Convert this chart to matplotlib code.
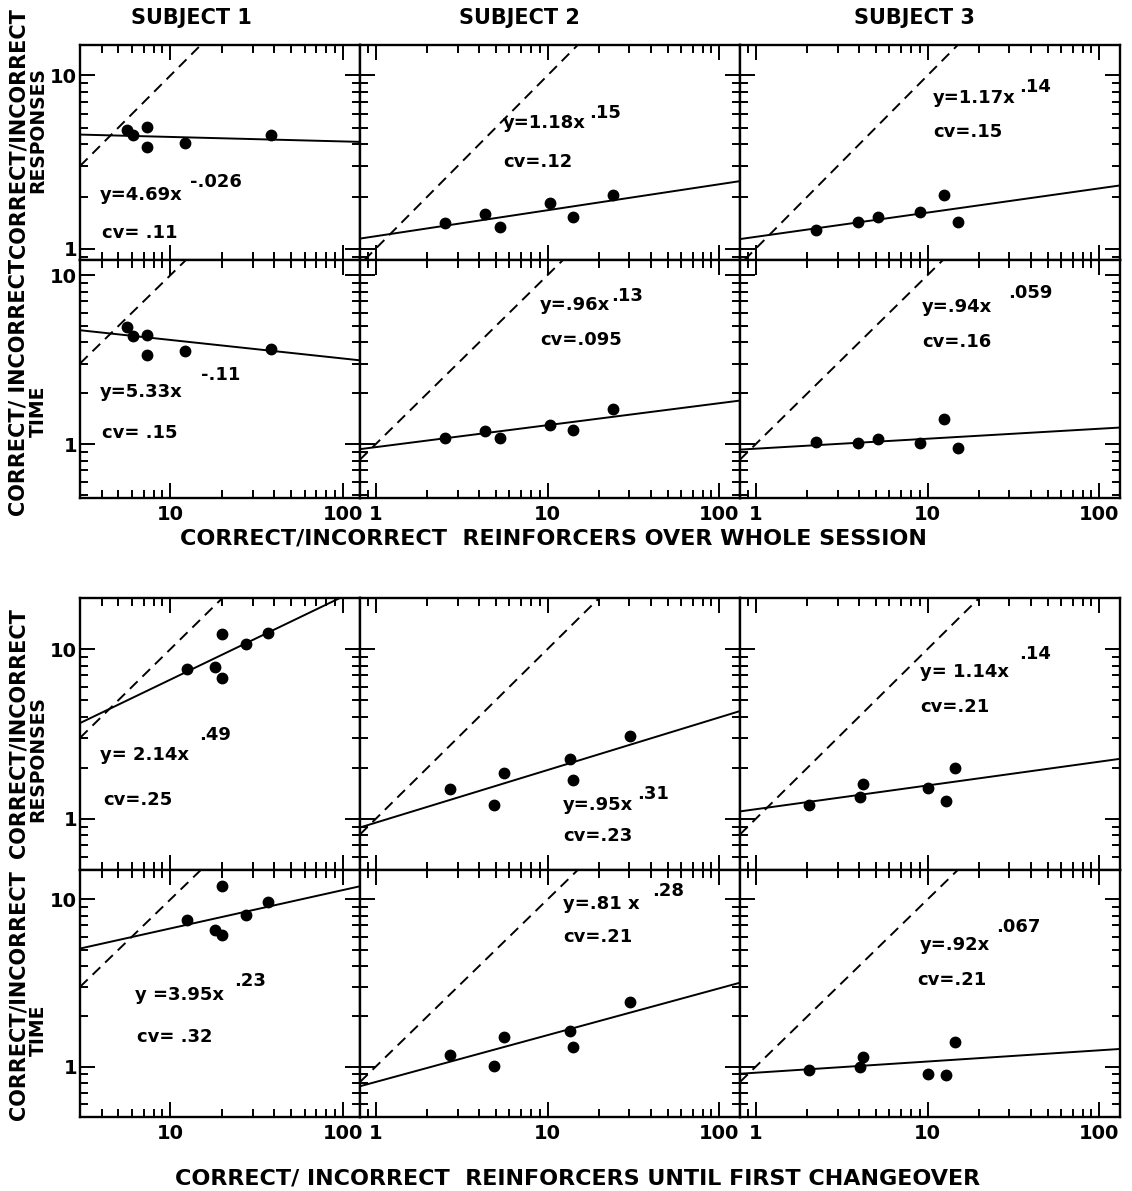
import matplotlib.pyplot as plt
from matplotlib.ticker import LogLocator, FuncFormatter, NullFormatter
import numpy as np

# correct/incorrect reinforcers over whole session (x) and the two ratios (y)
whole_x_s1 = [5.6, 6.1, 7.35, 7.35, 12.1, 38.0]
whole_resp_s1 = [4.83, 4.53, 5.07, 3.87, 4.09, 4.55]
whole_time_s1 = [4.95, 4.36, 4.42, 3.37, 3.56, 3.65]

whole_x_s2 = [2.53, 4.34, 5.3, 10.4, 14.1, 24.0]
whole_resp_s2 = [1.41, 1.58, 1.34, 1.83, 1.53, 2.03]
whole_time_s2 = [1.08, 1.20, 1.09, 1.30, 1.21, 1.61]

whole_x_s3 = [2.24, 3.95, 5.13, 9.1, 12.5, 15.0]
whole_resp_s3 = [1.29, 1.42, 1.52, 1.62, 2.05, 1.43]
whole_time_s3 = [1.03, 1.02, 1.07, 1.02, 1.41, 0.95]

# reinforcers until first changeover
first_x_s1 = [12.4, 18.0, 19.8, 19.8, 27.5, 36.5]
first_resp_s1 = [7.6, 7.8, 6.8, 12.3, 10.7, 12.4]
first_time_s1 = [7.5, 6.6, 6.1, 12.0, 8.1, 9.6]

first_x_s2 = [2.7, 4.85, 5.56, 13.5, 14.0, 30.2]
first_resp_s2 = [1.49, 1.20, 1.86, 2.24, 1.70, 3.07]
first_time_s2 = [1.18, 1.01, 1.50, 1.63, 1.32, 2.42]

first_x_s3 = [2.05, 4.03, 4.2, 10.0, 12.8, 14.5]
first_resp_s3 = [1.21, 1.34, 1.60, 1.52, 1.27, 2.00]
first_time_s3 = [0.95, 0.99, 1.15, 0.91, 0.89, 1.41]

# fitted power functions y = a * x^b, one per subject
whole_resp_fit = [(4.69, -0.026), (1.18, 0.15), (1.17, 0.14)]
whole_time_fit = [(5.33, -0.11), (0.96, 0.13), (0.94, 0.059)]
first_resp_fit = [(2.14, 0.49), (0.95, 0.31), (1.14, 0.14)]
first_time_fit = [(3.95, 0.23), (0.81, 0.28), (0.92, 0.067)]

whole_resp_eq = ['y=4.69x', 'y=1.18x', 'y=1.17x']
whole_resp_exp = ['-.026', '.15', '.14']
whole_resp_cv = ['cv= .11', 'cv=.12', 'cv=.15']
whole_time_eq = ['y=5.33x', 'y=.96x', 'y=.94x']
whole_time_exp = ['-.11', '.13', '.059']
whole_time_cv = ['cv= .15', 'cv=.095', 'cv=.16']
first_resp_eq = ['y= 2.14x', 'y=.95x', 'y= 1.14x']
first_resp_exp = ['.49', '.31', '.14']
first_resp_cv = ['cv=.25', 'cv=.23', 'cv=.21']
first_time_eq = ['y =3.95x', 'y=.81 x', 'y=.92x']
first_time_exp = ['.23', '.28', '.067']
first_time_cv = ['cv= .32', 'cv=.21', 'cv=.21']

subjects = ['SUBJECT 1', 'SUBJECT 2', 'SUBJECT 3']
xlabel_whole = 'CORRECT/INCORRECT  REINFORCERS OVER WHOLE SESSION'
xlabel_first = 'CORRECT/ INCORRECT  REINFORCERS UNTIL FIRST CHANGEOVER'

W, H = 1132, 1191
COL_EDGES = [80, 360, 740, 1120]
XLIMS = [(3, 125), (0.81, 132), (0.81, 132)]
TOP_ROWS = [45, 260, 498]
BOT_ROWS = [598, 870, 1117]
YLIMS_TOP = [(0.86, 15), (0.48, 12.3)]
YLIMS_BOT = [(0.5, 20), (0.5, 15)]

# text layout: equation (left, centre), exponent (gap, rise), cv (left, centre) in pixels
EQ_POS_TOP = [[(100, 195), (503, 123), (933, 98)], [(100, 392), (540, 305), (922, 307)]]
EXP_OFF_TOP = [[(7, 13), (3, 10), (3, 11)], [(18, 17), (1, 9), (16, 14)]]
CV_POS_TOP = [[(102, 233), (503, 162), (933, 132)], [(102, 433), (540, 340), (922, 342)]]
EQ_POS_BOT = [[(100, 755), (563, 805), (920, 672)], [(135, 995), (563, 904), (920, 945)]]
EXP_OFF_BOT = [[(10, 20), (4, 11), (10, 18)], [(10, 14), (12, 13), (6, 18)]]
CV_POS_BOT = [[(103, 800), (563, 836), (920, 707)], [(137, 1037), (563, 937), (917, 980)]]


def add_ax(fig, x0, x1, y0, y1):
    return fig.add_axes([x0 / W, 1 - y1 / H, (x1 - x0) / W, (y1 - y0) / H])


def draw_panel(ax, x, y, fit, xlim, ylim, label_x, label_y):
    ax.set_xscale('log')
    ax.set_yscale('log')
    ax.set_xlim(xlim)
    ax.set_ylim(ylim)
    # identity line
    lo, hi = max(xlim[0], ylim[0]), min(xlim[1], ylim[1])
    ax.plot([lo, hi], [lo, hi], color='black', lw=1.4, dashes=(5.5, 3.5))
    xs = np.geomspace(xlim[0], xlim[1], 60)
    ax.plot(xs, fit[0] * xs ** fit[1], color='black', lw=1.4)
    ax.plot(x, y, 'o', color='black', ms=7.5)
    for axis in (ax.xaxis, ax.yaxis):
        axis.set_major_locator(LogLocator(base=10, numticks=10))
        axis.set_minor_locator(LogLocator(base=10, subs=np.arange(2, 10), numticks=30))
        axis.set_major_formatter(FuncFormatter(lambda v, p: f'{v:g}'))
        axis.set_minor_formatter(NullFormatter())
    ax.tick_params(which='both', direction='in', top=True, right=True, width=1.4,
                   labelsize=14, labelbottom=label_x, labelleft=label_y)
    ax.tick_params(which='major', length=11)
    ax.tick_params(which='minor', length=6)
    ax.tick_params(axis='x', which='major', pad=5)
    ax.tick_params(axis='y', which='major', pad=2)
    for sp in ax.spines.values():
        sp.set_linewidth(1.7)


def put_text(fig, ax, eq, exp, cv, eq_pos, exp_off, cv_pos):
    t = fig.text(eq_pos[0] / W, 1 - eq_pos[1] / H, eq, ha='left', va='center', fontsize=13)
    ax.annotate(exp, xy=(1, 0.5), xycoords=t, xytext=exp_off, textcoords='offset pixels',
                ha='left', va='center', fontsize=13)
    fig.text(cv_pos[0] / W, 1 - cv_pos[1] / H, cv, ha='left', va='center', fontsize=13)


def ylabel(fig, line1, line2, c1, c2):
    fig.text(19 / W, 1 - c1 / H, line1, rotation=90, ha='center', va='center', fontsize=15)
    fig.text(38 / W, 1 - c2 / H, line2, rotation=90, ha='center', va='center', fontsize=13.5)


def main():
    plt.rcParams['font.family'] = ['DejaVu Sans']
    plt.rcParams['font.weight'] = 'bold'
    fig = plt.figure(figsize=(W / 100, H / 100), dpi=100)

    blocks = [
        (TOP_ROWS, YLIMS_TOP,
         [[whole_x_s1, whole_x_s2, whole_x_s3]] * 2,
         [[whole_resp_s1, whole_resp_s2, whole_resp_s3], [whole_time_s1, whole_time_s2, whole_time_s3]],
         [whole_resp_fit, whole_time_fit],
         [whole_resp_eq, whole_time_eq], [whole_resp_exp, whole_time_exp], [whole_resp_cv, whole_time_cv],
         EQ_POS_TOP, EXP_OFF_TOP, CV_POS_TOP),
        (BOT_ROWS, YLIMS_BOT,
         [[first_x_s1, first_x_s2, first_x_s3]] * 2,
         [[first_resp_s1, first_resp_s2, first_resp_s3], [first_time_s1, first_time_s2, first_time_s3]],
         [first_resp_fit, first_time_fit],
         [first_resp_eq, first_time_eq], [first_resp_exp, first_time_exp], [first_resp_cv, first_time_cv],
         EQ_POS_BOT, EXP_OFF_BOT, CV_POS_BOT),
    ]

    for rows, ylims, xs, ys, fits, eqs, exps, cvs, eq_pos, exp_off, cv_pos in blocks:
        for r in range(2):
            for c in range(3):
                ax = add_ax(fig, COL_EDGES[c], COL_EDGES[c + 1], rows[r], rows[r + 1])
                draw_panel(ax, xs[r][c], ys[r][c], fits[r][c], XLIMS[c], ylims[r],
                           label_x=(r == 1), label_y=(c == 0))
                put_text(fig, ax, eqs[r][c], exps[r][c], cvs[r][c],
                         eq_pos[r][c], exp_off[r][c], cv_pos[r][c])

    for name, cx in zip(subjects, [191, 519, 914]):
        fig.text(cx / W, 1 - 18 / H, name, ha='center', va='center', fontsize=15)

    ylabel(fig, 'CORRECT/INCORRECT', 'RESPONSES', 133, 130)
    ylabel(fig, 'CORRECT/ INCORRECT', 'TIME', 387, 411)
    ylabel(fig, 'CORRECT/INCORRECT', 'RESPONSES', 733, 759)
    ylabel(fig, 'CORRECT/INCORRECT', 'TIME', 995, 1030)

    fig.text(553 / W, 1 - 539 / H, xlabel_whole, ha='center', va='center', fontsize=16)
    fig.text(578 / W, 1 - 1178 / H, xlabel_first, ha='center', va='center', fontsize=16)

    fig.savefig('out.png', dpi=100, facecolor='white')


if __name__ == '__main__':
    main()
